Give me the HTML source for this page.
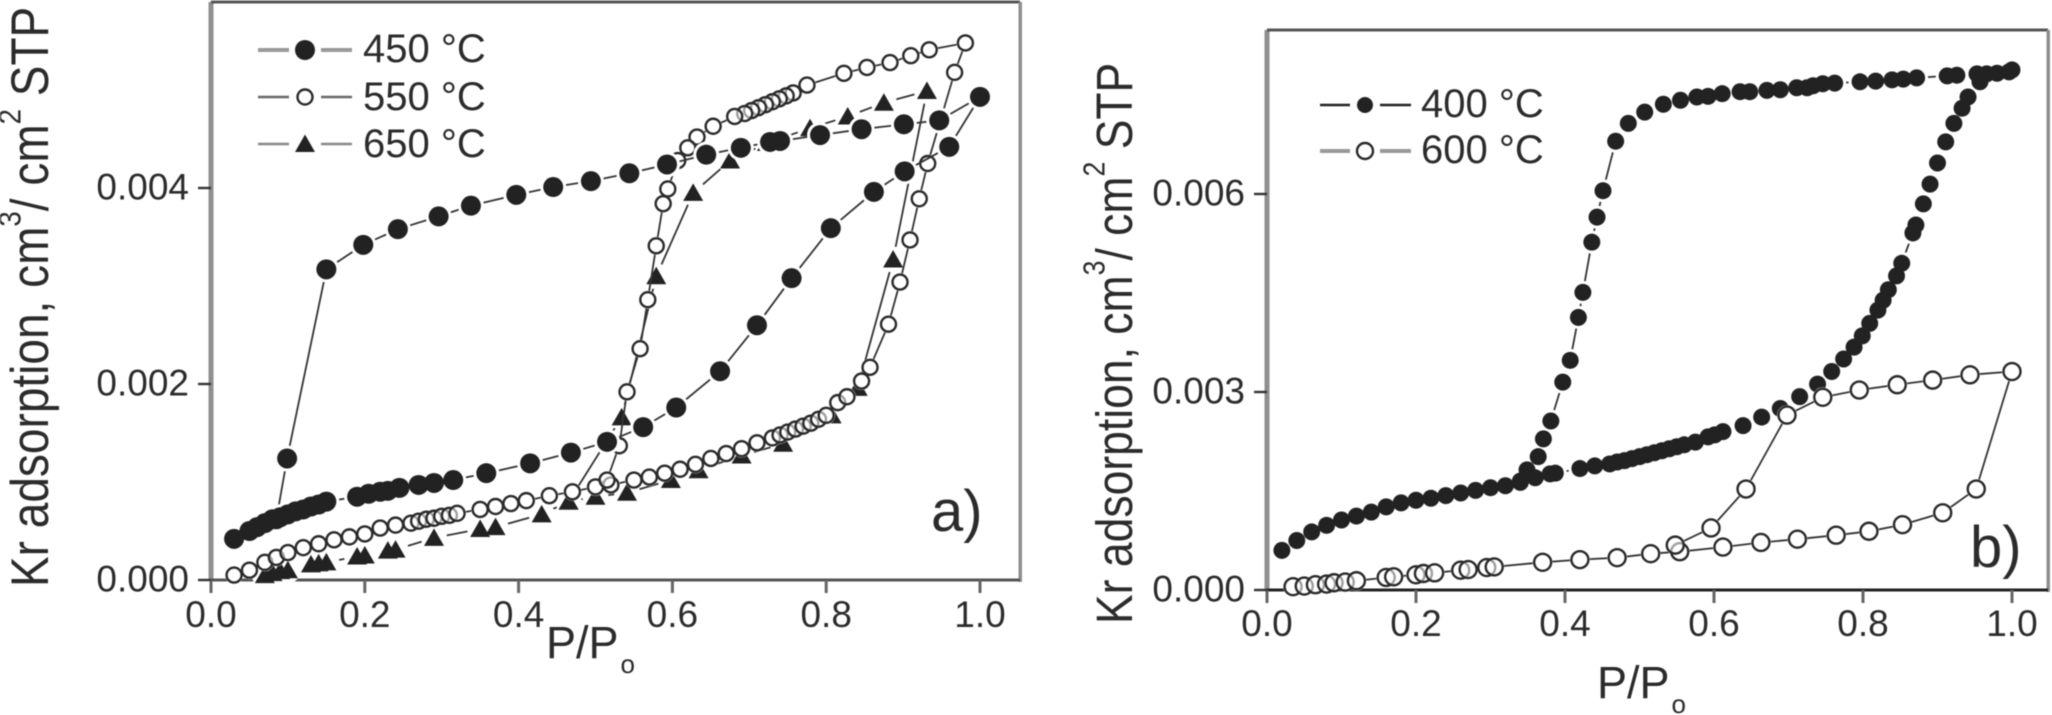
<!DOCTYPE html>
<html lang="en">
<head>
<meta charset="utf-8">
<title>Kr adsorption isotherms</title>
<style>
html,body{margin:0;padding:0;background:#fff;width:2052px;height:715px;overflow:hidden}
svg{display:block;filter:blur(.45px)}
text{font-family:"Liberation Sans",sans-serif;fill:#2b2b2b}
</style>
</head>
<body>
<svg id="chart" xmlns="http://www.w3.org/2000/svg" width="2052" height="715" viewBox="0 0 2052 715"></svg>
<script>
// Panel a data
const a450P = [.03,.05,.06,.07,.08,.09,.10,.11,.12,.13,.14,.15,.19,.205,.22,.23,.245,.27,.29,.315,.358,.415,.468,.515,.562,.605,.662,.71,.755,.806,.862,.902,.96,1.0,.947,.901,.846,.792,.74,.727,.689,.644,.593,.544,.494,.445,.397,.338,.296,.243,.198,.15,.099,.085];
const a450V = [.00042,.00050,.00054,.00058,.00062,.00064,.00067,.00070,.00072,.00075,.00077,.00080,.00085,.00088,.00090,.00091,.00094,.00097,.00099,.00102,.00109,.00119,.00130,.00141,.00156,.00176,.00213,.00260,.00308,.00359,.00396,.00417,.00442,.00493,.00469,.00465,.00460,.00454,.00448,.00447,.00441,.00434,.00424,.00415,.00407,.00401,.00393,.00382,.00371,.00358,.00342,.00317,.00124,.00062];
const a550P = [.03,.05,.07,.085,.10,.12,.14,.16,.18,.20,.22,.24,.26,.27,.28,.29,.30,.31,.32,.35,.37,.39,.41,.44,.47,.50,.52,.55,.57,.59,.61,.63,.65,.67,.69,.71,.73,.74,.75,.76,.77,.78,.79,.80,.815,.827,.846,.857,.881,.896,.909,.921,.932,.967,.981,.934,.91,.883,.853,.823,.775,.757,.748,.739,.73,.721,.712,.703,.694,.681,.653,.632,.62,.607,.594,.588,.579,.568,.558,.541,.531,.515];
const a550V = [.00005,.00010,.00018,.00023,.00028,.00033,.00037,.00041,.00044,.00047,.00053,.00056,.00058,.00060,.00062,.00063,.00065,.00066,.00068,.00072,.00075,.00078,.00081,.00086,.00090,.00095,.00097,.00102,.00105,.00109,.00113,.00118,.00124,.00129,.00134,.00140,.00145,.00148,.00151,.00154,.00157,.00160,.00164,.00168,.00181,.00187,.00203,.00217,.00261,.00304,.00347,.00389,.00425,.00518,.00548,.00541,.00535,.00528,.00523,.00517,.00505,.00497,.00494,.00491,.00488,.00485,.00482,.00479,.00476,.00473,.00463,.00452,.00441,.00428,.00399,.00384,.00341,.00286,.00236,.00192,.00137,.00102];
const a650P = [.07,.08,.09,.10,.13,.14,.15,.19,.20,.23,.24,.29,.35,.37,.43,.465,.50,.541,.598,.634,.69,.744,.807,.841,.887,.931,.875,.828,.779,.723,.675,.627,.579,.534,.465];
const a650V = [.00005,.00007,.00009,.00010,.00016,.00017,.00018,.00024,.00025,.00030,.00031,.00043,.00052,.00054,.00067,.00080,.00085,.00089,.00102,.00112,.00127,.00139,.00168,.00196,.00327,.00499,.00487,.00473,.00461,.00446,.00428,.00395,.00310,.00166,.00080];
// Panel b data
const b400P = [.02,.04,.06,.08,.10,.12,.14,.16,.18,.20,.22,.24,.26,.28,.30,.32,.34,.36,.38,.387,.42,.44,.46,.47,.48,.49,.50,.51,.52,.53,.54,.55,.56,.575,.592,.601,.612,.639,.664,.689,.715,.739,.758,.774,.788,.799,.809,.82,.827,.834,.845,.852,.867,.871,.881,.89,.90,.911,.922,.933,.941,.957,1.0,.996,.98,.966,.953,.926,.913,.872,.854,.839,.817,.796,.762,.746,.733,.725,.711,.689,.671,.648,.635,.611,.592,.577,.555,.532,.507,.485,.468,.451,.443,.436,.424,.418,.407,.397,.381,.371,.364,.349,.34];
const b400V = [.00060,.00075,.00088,.00098,.00106,.00112,.00118,.00126,.00132,.00136,.00139,.00143,.00147,.00151,.00155,.00158,.00163,.00170,.00176,.00177,.00184,.00188,.00191,.00194,.00196,.00199,.00202,.00205,.00208,.00211,.00214,.00217,.00220,.00224,.00232,.00235,.00240,.00249,.00262,.00275,.00293,.00312,.00331,.00350,.00368,.00385,.00404,.00424,.00439,.00455,.00476,.00495,.00541,.00553,.00585,.00615,.00647,.00679,.00707,.00730,.00747,.00770,.00788,.00785,.00783,.00782,.00782,.00780,.00779,.00776,.00774,.00773,.00771,.00770,.00768,.00767,.00764,.00761,.00761,.00758,.00757,.00755,.00755,.00752,.00748,.00747,.00742,.00736,.00724,.00707,.00680,.00605,.00565,.00527,.00451,.00413,.00348,.00315,.00256,.00229,.00202,.00182,.00165];
const b600P = [.035,.05,.065,.08,.09,.105,.12,.16,.17,.20,.21,.225,.26,.27,.295,.305,.37,.42,.47,.515,.554,.612,.663,.712,.764,.808,.853,.907,.952,1.0,.9436,.8935,.846,.795,.746,.698,.643,.596,.548];
const b600V = [.00005,.00006,.00008,.00009,.00011,.00012,.00014,.00019,.00020,.00023,.00025,.00026,.00030,.00031,.00034,.00035,.00042,.00046,.00049,.00055,.00058,.00065,.00072,.00077,.00083,.00089,.00099,.00117,.00153,.00331,.00326,.00318,.00311,.00303,.00292,.00265,.00153,.00094,.00068];
// Tick labels
const aXTicks = [0,.2,.4,.6,.8,1];
const aYTicks = [0,.002,.004];
const bXTicks = [0,.2,.4,.6,.8,1];
const bYTicks = [0,.003,.006];

const NS = 'http://www.w3.org/2000/svg';
const svg = document.getElementById('chart');
function mk(tag, attrs, parent, txt){
  const e = document.createElementNS(NS, tag);
  for (const k in attrs) e.setAttribute(k, attrs[k]);
  if (txt !== undefined) e.textContent = txt;
  (parent || svg).appendChild(e);
  return e;
}
// Axis functions
const axA = {x: v => 211 + v * 769, y: v => 580 - v * 98000};
const axB = {x: v => 1267 + v * 745, y: v => 590 - v * 66000};

function marker(g, kind, x, y, r){
  if (kind === 'filled') return mk('circle', {cx:x, cy:y, r:r, fill:'#222'}, g);
  if (kind === 'open') return mk('circle', {cx:x, cy:y, r:r, fill:'#fff', 'fill-opacity':.55, stroke:'#2a2a2a', 'stroke-width':2.4}, g);
  return mk('polygon', {points:(x-r)+','+(y+r*.8)+' '+x+','+(y-r*.95)+' '+(x+r)+','+(y+r*.8), fill:'#222'}, g);
}
function halo(g, kind, x, y, r){
  mk('circle', {cx:x, cy:y, r:r + (kind === 'open' ? 1.5 : 3), fill:'#fff'}, g);
}
function drawSeries(name, ax, P, V, kind, r){
  const g = mk('g', {}, svg);
  
  
  const pts = P.map((p, i) => ax.x(p).toFixed(1) + ',' + ax.y(V[i]).toFixed(1)).join(' ');
  const line = mk('polyline', {points:pts, fill:'none', stroke:'#333', 'stroke-width':1.8}, g);
  
  
  P.forEach((p, i) => halo(g, kind, ax.x(p), ax.y(V[i]), r));
  P.forEach((p, i) => {
    const m = marker(g, kind, ax.x(p), ax.y(V[i]), r);
    
    
  });
}
function drawAxes(name, ax, f, xTicks, yTicks, tickBase){
  const g = mk('g', {}, svg);
  
  
  mk('rect', {x:f.l - 2.5, y:f.t, width:5, height:f.b - f.t + 1, fill:'#8f8f8f'}, g);
  mk('rect', {x:f.l, y:f.t - 1.5, width:f.r - f.l, height:3, fill:'#555'}, g);
  mk('rect', {x:f.r - 1.5, y:f.t, width:3.5, height:f.b - f.t + 2, fill:'#8f8f8f'}, g);
  mk('rect', {x:f.l, y:f.b - 1.5, width:f.r - f.l, height:3, fill:f.bc}, g);
  xTicks.forEach(v => {
    const x = ax.x(v);
    const t = mk('line', {x1:x, x2:x, y1:f.b, y2:f.b + 13, stroke:'#666', 'stroke-width':3}, g);
    
    
    const l = mk('text', {x:x, y:tickBase, 'text-anchor':'middle', 'font-size':37}, g, v.toFixed(1));
    
    
  });
  yTicks.forEach(v => {
    const y = ax.y(v);
    const t = mk('line', {x1:f.l - 13, x2:f.l, y1:y, y2:y, stroke:'#333', 'stroke-width':2.4}, g);
    
    
    const l = mk('text', {x:f.l - 22, y:y + 11.5, 'text-anchor':'end', 'font-size':37}, g, v.toFixed(3));
    
    
  });
}
function yTitle(baseX, bottomY, fs){
  const t = mk('text', {transform:'translate(' + baseX + ',' + bottomY + ') rotate(-90) scale(1,1.15)', 'font-size':fs});
  
  
  mk('tspan', {}, t, 'Kr adsorption, cm');
  mk('tspan', {dy:-24, 'font-size':fs * .6}, t, '3');
  mk('tspan', {dy:24}, t, '/ cm');
  mk('tspan', {dy:-24, 'font-size':fs * .6}, t, '2');
  mk('tspan', {dy:24}, t, ' STP');
}
function xTitle(x, base){
  const t = mk('text', {transform:'translate(' + x + ',' + base + ')', 'font-size':45});
  
  
  mk('tspan', {}, t, 'P/P');
  mk('tspan', {dy:15, dx:2, 'font-size':26}, t, 'o');
}
function legend(name, x1, x2, mx, gap, y, kind, r, label, tx, base, col, w){
  const g = mk('g', {}, svg);
  
  
  mk('line', {x1:x1, x2:mx - gap, y1:y, y2:y, stroke:col, 'stroke-width':w}, g);
  mk('line', {x1:mx + gap, x2:x2, y1:y, y2:y, stroke:col, 'stroke-width':w}, g);
  marker(g, kind, mx, y, r);
  mk('text', {x:tx, y:base, 'font-size':40}, g, label);
}

// Panel a
drawAxes('panel-a', axA, {l:211, r:1020, t:2, b:580, bc:'#555'}, aXTicks, aYTicks, 627);
drawSeries('series-a-650', axA, a650P, a650V, 'tri', 10);
drawSeries('series-a-550', axA, a550P, a550V, 'open', 7.5);
drawSeries('series-a-450', axA, a450P, a450V, 'filled', 10);
yTitle(48, 587, 46);
xTitle(546, 658);
legend('legend-entry-450', 258, 352, 305, 16, 50, 'filled', 10, '450 °C', 363, 62, '#999', 4);
legend('legend-entry-550', 258, 352, 305, 16, 97, 'open', 7.5, '550 °C', 363, 110, '#666', 2.4);
legend('legend-entry-650', 258, 352, 305, 16, 144, 'tri', 10, '650 °C', 363, 157, '#888', 2.4);
const la = mk('text', {x:931, y:531, 'font-size':58}, svg, 'a)');



// Panel b
drawAxes('panel-b', axB, {l:1267, r:2048, t:30, b:590, bc:'#222'}, bXTicks, bYTicks, 636);
drawSeries('series-b-400', axB, b400P, b400V, 'filled', 8.5);
drawSeries('series-b-600', axB, b600P, b600V, 'open', 8.5);
yTitle(1132, 624, 44.5);
xTitle(1597, 698);
legend('legend-entry-400', 1320, 1411, 1365, 15, 105, 'filled', 8, '400 °C', 1421, 117, '#222', 2.4);
legend('legend-entry-600', 1320, 1411, 1365, 15, 151, 'open', 8, '600 °C', 1421, 163, '#999', 4);
const lb = mk('text', {x:1970, y:567, 'font-size':58}, svg, 'b)');


</script>
</body>
</html>
